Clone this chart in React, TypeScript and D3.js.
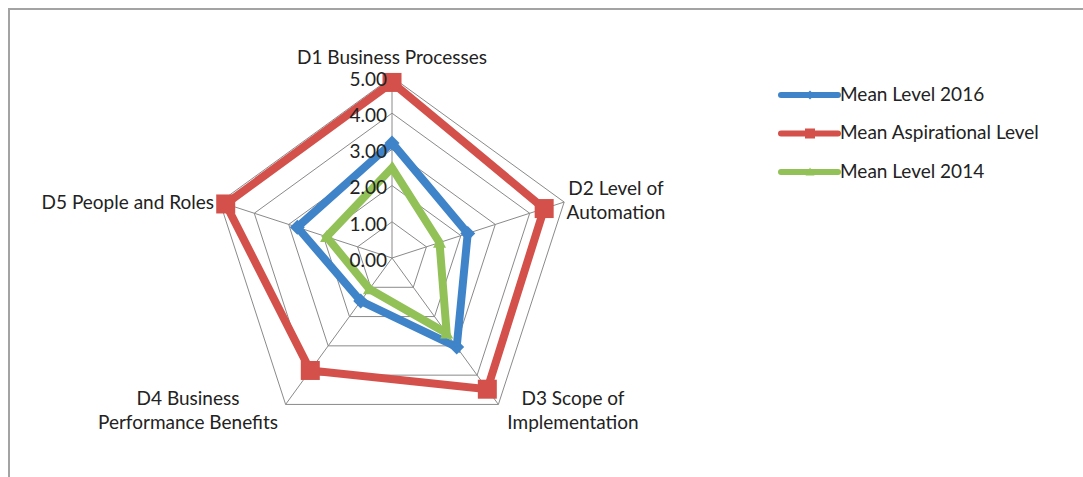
import React from 'react';
import * as d3 from 'd3';

// axes / categories
const axes = [
  ['D1 Business Processes'],
  ['D2 Level of', 'Automation'],
  ['D3 Scope of', 'Implementation'],
  ['D4 Business', 'Performance Benefits'],
  ['D5 People and Roles'],
];

// series values, in axis order
const mean2016 = [3.18, 2.2, 3.04, 1.47, 2.75];
const aspirational = [4.85, 4.42, 4.48, 3.84, 4.83];
const mean2014 = [2.49, 1.38, 2.57, 1.06, 1.9];

const ticks = [0, 1, 2, 3, 4, 5];

const seriesNames = ['Mean Level 2016', 'Mean Aspirational Level', 'Mean Level 2014'];
const colors = ['#3f84c9', '#d4514b', '#92c158'];

const W = 1083;
const H = 477;
const cx = 392;
const cy = 258;
const FONT = 'Lato, "Open Sans", sans-serif';
const FS = 19;

const rScale = d3.scaleLinear().domain([0, 5]).range([0, 181]);
const angle = (i: number) => (i * 2 * Math.PI) / axes.length;
const pt = (i: number, v: number): [number, number] => [
  cx + rScale(v) * Math.sin(angle(i)),
  cy - rScale(v) * Math.cos(angle(i)),
];

const radial = d3
  .lineRadial<number>()
  .angle((_, i) => angle(i))
  .radius((d) => rScale(d))
  .curve(d3.curveLinearClosed);

function Marker({ kind, x, y, color, size }: { kind: number; x: number; y: number; color: string; size: number }) {
  if (kind === 0) {
    const s = size / 2;
    return <path d={`M${x},${y - s}L${x + s},${y}L${x},${y + s}L${x - s},${y}Z`} fill={color} />;
  }
  if (kind === 1) {
    return <rect x={x - size / 2} y={y - size / 2} width={size} height={size} fill={color} />;
  }
  const s = size / 2;
  return <path d={`M${x},${y - s}L${x + s},${y + s * 0.8}L${x - s},${y + s * 0.8}Z`} fill={color} />;
}

export default function App() {
  const data = [mean2016, aspirational, mean2014];
  const markerSize = [15, 19, 13];

  // axis label placement
  const labelPos = [
    { x: 392, y: 64, anchor: 'middle' },
    { x: 616, y: 195, anchor: 'middle' },
    { x: 573, y: 405, anchor: 'middle' },
    { x: 188, y: 405, anchor: 'middle' },
    { x: 214, y: 209, anchor: 'end' },
  ];

  return (
    <svg width={W} height={H} style={{ position: 'absolute', left: 0, top: 0, background: '#fff' }}>
      <rect x={9} y={9} width={1100} height={500} fill="#fff" stroke="#a3a3a3" strokeWidth={2} />

      {/* grid rings */}
      {ticks.slice(1).map((t) => (
        <path
          key={t}
          d={d3.line()(axes.map((_, i) => pt(i, t))) + 'Z'}
          fill="none"
          stroke="#8a8a8a"
          strokeWidth={1}
        />
      ))}
      {/* spokes */}
      {axes.map((_, i) => {
        const [x, y] = pt(i, 5);
        return <line key={i} x1={cx} y1={cy} x2={x} y2={y} stroke="#8a8a8a" strokeWidth={1} />;
      })}

      {/* series */}
      {data.map((vals, si) => (
        <g key={si}>
          <path
            d={radial(vals) || ''}
            transform={`translate(${cx},${cy})`}
            fill="none"
            stroke={colors[si]}
            strokeWidth={8}
            strokeLinejoin="miter"
          />
          {vals.map((v, i) => {
            const [x, y] = pt(i, v);
            return <Marker key={i} kind={si} x={x} y={y} color={colors[si]} size={markerSize[si]} />;
          })}
        </g>
      ))}

      {/* tick labels */}
      {ticks.map((t) => (
        <text
          key={t}
          x={387}
          y={cy - rScale(t) + 4}
          textAnchor="end"
          dominantBaseline="middle"
          fontFamily={FONT}
          fontSize={FS}
          fill="#222"
        >
          {t.toFixed(2)}
        </text>
      ))}

      {/* axis labels */}
      {axes.map((lines, i) => (
        <text
          key={i}
          x={labelPos[i].x}
          y={labelPos[i].y}
          textAnchor={labelPos[i].anchor as any}
          fontFamily={FONT}
          fontSize={FS}
          fill="#222"
        >
          {lines.map((l, j) => (
            <tspan key={j} x={labelPos[i].x} dy={j === 0 ? 0 : 24}>
              {l}
            </tspan>
          ))}
        </text>
      ))}

      {/* legend */}
      {seriesNames.map((name, si) => {
        const y = 95 + si * 38.5;
        return (
          <g key={name}>
            <line x1={781} x2={838} y1={y} y2={y} stroke={colors[si]} strokeWidth={6} strokeLinecap="round" />
            <Marker kind={si} x={810} y={y} color={colors[si]} size={si === 1 ? 10 : 9} />
            <text x={840} y={y + 1} dominantBaseline="middle" fontFamily={FONT} fontSize={FS} fill="#222">
              {name}
            </text>
          </g>
        );
      })}
    </svg>
  );
}
